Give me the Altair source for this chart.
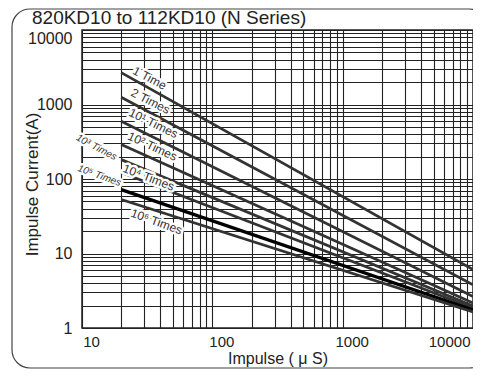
import altair as alt
import pandas as pd

# ---- data ----
series = ["1 Time", "2 Times", "10¹ Times", "10² Times",
          "10³ Times", "10⁴ Times", "10⁵ Times", "10⁶ Times"]
pulse_start = 20       # µs
pulse_end = 10000      # µs
current_start = [2680, 1250, 595, 290, 182, 122, 72, 53]
current_end = [6.1, 3.8, 2.64, 2.17, 1.98, 1.86, 1.75, 1.64]

x_ticks = [m * d for d in (10, 100, 1000) for m in range(1, 10)] + [10000]
y_ticks = [m * d for d in (1, 10, 100, 1000) for m in range(1, 10)] + [10000]

# annotation labels (text, pulse, current, angle)
lab_text = ["1 Time", "2 Times", "10¹ Times", "10² Times", "10⁴ Times", "10⁶ Times"]
lab_x = [33.0, 33.5, 35.3, 34.7, 32.4, 37.3]
lab_y = [2258, 1106, 559, 274, 105, 26.8]
lab_angle = [28, 27, 26, 25, 21, 20]

side_text = ["10³ Times", "10⁵ Times"]
side_x = [12.9, 13.6]
side_y = [266, 111]
side_angle = [28, 20]

rows = []
for s, a, b in zip(series, current_start, current_end):
    rows.append({"series": s, "pulse": pulse_start, "current": a})
    rows.append({"series": s, "pulse": pulse_end, "current": b})
df = pd.DataFrame(rows)
labels = pd.DataFrame({"text": lab_text, "pulse": lab_x, "current": lab_y, "angle": lab_angle})
side = pd.DataFrame({"text": side_text, "pulse": side_x, "current": side_y, "angle": side_angle})
one = pd.DataFrame({"k": [0]})

W, H = 391, 298
FONT = "Liberation Sans"

xscale = alt.Scale(type="log", domain=[10, 10000], nice=False)
yscale = alt.Scale(type="log", domain=[1, 10000], nice=False)

xaxis = alt.Axis(
    values=x_ticks, grid=True, ticks=False, domain=False, format="d",
    labelExpr="indexof([10,100,1000,10000], datum.value) >= 0 ? datum.label : ''",
    labelAlign={"condition": {"test": "datum.value == 10000", "value": "right"}, "value": "center"},
    labelOffset={"condition": {"test": "datum.value == 10000", "value": -3}, "value": 9},
    labelPadding=6, labelFontSize=15, labelFont=FONT, labelColor="#222",
    title="Impulse ( μ S)", titleFontSize=16, titleFont=FONT, titleFontWeight="normal",
    titleColor="#222", titlePadding=1,
)
yaxis = alt.Axis(
    values=y_ticks, grid=True, ticks=False, domain=False, format="d",
    labelExpr="indexof([1,10,100,1000,10000], datum.value) >= 0 ? datum.label : ''",
    labelBaseline={"condition": {"test": "datum.value == 10000", "value": "top"}, "value": "middle"},
    labelPadding=10, labelFontSize=16, labelFont=FONT, labelColor="#222",
    title="Impulse Current(A)", titleFontSize=17, titleFont=FONT, titleFontWeight="normal",
    titleColor="#222", titleX=-50, titleY=H / 2 + 5, titleBaseline="middle", titleAngle=270,
)

base = alt.Chart(df)

lines = base.mark_line(strokeCap="butt").encode(
    x=alt.X("pulse:Q", scale=xscale, axis=xaxis),
    y=alt.Y("current:Q", scale=yscale, axis=yaxis),
    detail="series:N",
    color=alt.condition(alt.datum.series == "10⁵ Times", alt.value("#000000"), alt.value("#333333")),
    strokeWidth=alt.condition(alt.datum.series == "10⁵ Times", alt.value(3.3), alt.value(2.8)),
)

def text_layers(data, size, style):
    enc = dict(
        x=alt.X("pulse:Q", scale=xscale),
        y=alt.Y("current:Q", scale=yscale),
        text="text:N",
        angle=alt.Angle("angle:Q", scale=None),
    )
    halo = alt.Chart(data).mark_text(
        font=FONT, fontSize=size, fontStyle=style, stroke="white", strokeWidth=5,
        strokeJoin="round", fill="white", align="center", baseline="middle",
    ).encode(**enc)
    txt = alt.Chart(data).mark_text(
        font=FONT, fontSize=size, fontStyle=style, fill="#333", align="center", baseline="middle",
    ).encode(**enc)
    return [halo, txt]

lab_layers = text_layers(labels, 12, "normal")
side_layers = text_layers(side, 10, "italic")

title = alt.Chart(one).mark_text(
    text="820KD10 to 112KD10 (N Series)", font=FONT, fontSize=19, color="#222",
    align="left", baseline="middle",
).encode(x=alt.value(-50), y=alt.value(-12))

frame = alt.Chart(one).mark_rect(
    fill=None, stroke="#444", strokeWidth=1.2, cornerRadius=18,
).encode(x=alt.value(-70), x2=alt.value(W + 14), y=alt.value(-21), y2=alt.value(H + 40))

chart = alt.layer(frame, lines, *lab_layers, *side_layers, title).properties(
    width=W, height=H,
    autosize=alt.AutoSizeParams(type="none"),
    padding={"left": 74, "top": 22, "right": 0, "bottom": 42},
).configure_view(
    stroke="#222", strokeWidth=1.5,
).configure_axis(
    gridColor="#222", gridOpacity=1, gridWidth=1.1,
)

chart.save("out.html", embed_options={"renderer": "svg", "actions": False})
